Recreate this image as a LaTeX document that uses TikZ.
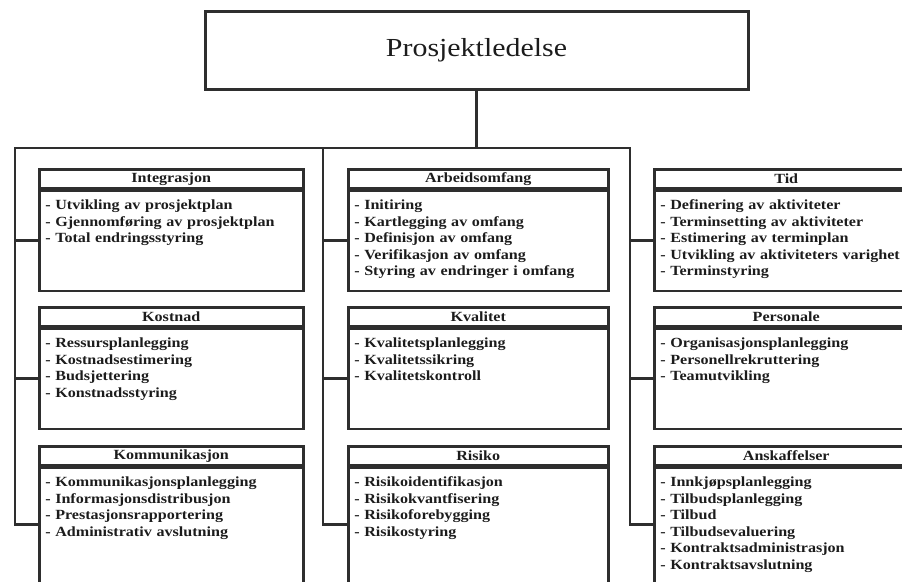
\documentclass[tikz,border=0pt]{standalone}
\usepackage{fontspec}
\setmainfont[FakeStretch=1.15]{Liberation Serif}
\usetikzlibrary{positioning}
\definecolor{strek}{HTML}{2E2E2E}
\definecolor{tekst}{HTML}{1C1C1C}
\tikzset{
    hode/.style={draw=strek, line width=2.5pt, minimum height=19pt, inner sep=0pt,
        text=tekst, font=\bfseries\fontsize{14}{16}\selectfont},
    kropp/.style={draw=strek, line width=2.5pt, inner xsep=6pt, inner ysep=0pt,
        align=left, text=tekst, text height=19pt, text depth=81pt,
        font=\bfseries\fontsize{14}{16.5}\selectfont},
    gren/.style={draw=strek, line width=2.8pt}
}
\begin{document}
\begin{tikzpicture}[x=1pt, y=-1pt]
    \useasboundingbox (0,0) rectangle (902,581);
    \clip (0,0) rectangle (902,581);

    % toppboks
    \node[draw=strek, line width=3pt, minimum width=543pt, minimum height=78pt,
        text=tekst, font=\fontsize{26}{30}\selectfont] (prosjekt) at (476.5,50) {Prosjektledelse};

    % venstre kolonne
    \node[hode, minimum width=264pt, anchor=north west] (integrasjon-tittel) at (38,168) {Integrasjon};
    \node[kropp, text width=252pt, below=0pt of integrasjon-tittel] (integrasjon)
        {- Utvikling av prosjektplan\\- Gjennomføring av prosjektplan\\- Total endringsstyring};

    \node[hode, minimum width=264pt, anchor=north west] (kostnad-tittel) at (38,306) {Kostnad};
    \node[kropp, text width=252pt, below=0pt of kostnad-tittel] (kostnad)
        {- Ressursplanlegging\\- Kostnadsestimering\\- Budsjettering\\- Konstnadsstyring};

    \node[hode, minimum width=264pt, anchor=north west] (kommunikasjon-tittel) at (38,445) {Kommunikasjon};
    \node[kropp, text width=252pt, text depth=130pt, below=0pt of kommunikasjon-tittel] (kommunikasjon)
        {- Kommunikasjonsplanlegging\\- Informasjonsdistribusjon\\- Prestasjonsrapportering\\- Administrativ avslutning};

    % midtre kolonne
    \node[hode, minimum width=260pt, anchor=north west] (omfang-tittel) at (347,168) {Arbeidsomfang};
    \node[kropp, text width=248pt, below=0pt of omfang-tittel] (omfang)
        {- Initiring\\- Kartlegging av omfang\\- Definisjon av omfang\\- Verifikasjon av omfang\\- Styring av endringer i omfang};

    \node[hode, minimum width=260pt, anchor=north west] (kvalitet-tittel) at (347,306) {Kvalitet};
    \node[kropp, text width=248pt, below=0pt of kvalitet-tittel] (kvalitet)
        {- Kvalitetsplanlegging\\- Kvalitetssikring\\- Kvalitetskontroll};

    \node[hode, minimum width=260pt, anchor=north west] (risiko-tittel) at (347,445) {Risiko};
    \node[kropp, text width=248pt, text depth=130pt, below=0pt of risiko-tittel] (risiko)
        {- Risikoidentifikasjon\\- Risikokvantfisering\\- Risikoforebygging\\- Risikostyring};

    % hoyre kolonne
    \node[hode, minimum width=264pt, anchor=north west] (tid-tittel) at (653,168) {Tid};
    \node[kropp, text width=252pt, below=0pt of tid-tittel] (tid)
        {- Definering av aktiviteter\\- Terminsetting av aktiviteter\\- Estimering av terminplan\\- Utvikling av aktiviteters varighet\\- Terminstyring};

    \node[hode, minimum width=264pt, anchor=north west] (personale-tittel) at (653,306) {Personale};
    \node[kropp, text width=252pt, below=0pt of personale-tittel] (personale)
        {- Organisasjonsplanlegging\\- Personellrekruttering\\- Teamutvikling};

    \node[hode, minimum width=264pt, anchor=north west] (anskaffelser-tittel) at (653,445) {Anskaffelser};
    \node[kropp, text width=252pt, text depth=130pt, below=0pt of anskaffelser-tittel] (anskaffelser)
        {- Innkjøpsplanlegging\\- Tilbudsplanlegging\\- Tilbud\\- Tilbudsevaluering\\- Kontraktsadministrasjon\\- Kontraktsavslutning};

    % grener
    \coordinate (venstre) at (15,148);
    \coordinate (midt) at (323,148);
    \coordinate (hoyre) at (630,148);
    \draw[gren] (prosjekt.south) -- (prosjekt.south |- midt);
    \draw[gren] ([yshift=-58pt]kommunikasjon.north west) -| (venstre) -- (hoyre)
        |- ([yshift=-58pt]anskaffelser.north west);
    \draw[gren] (midt) |- ([yshift=-58pt]risiko.north west);
    \draw[gren] (venstre |- integrasjon.west) -- (integrasjon.west);
    \draw[gren] (venstre |- kostnad.west) -- (kostnad.west);
    \draw[gren] (midt |- omfang.west) -- (omfang.west);
    \draw[gren] (midt |- kvalitet.west) -- (kvalitet.west);
    \draw[gren] (hoyre |- tid.west) -- (tid.west);
    \draw[gren] (hoyre |- personale.west) -- (personale.west);
\end{tikzpicture}
\end{document}
